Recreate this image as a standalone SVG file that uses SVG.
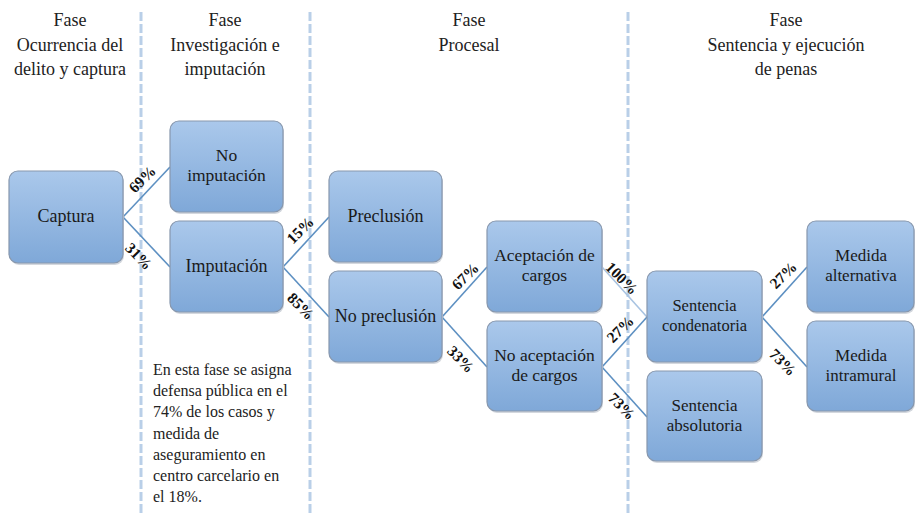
<svg xmlns="http://www.w3.org/2000/svg" width="916" height="515" viewBox="0 0 916 515">
<defs>
<linearGradient id="g" x1="0" y1="0" x2="0" y2="1">
<stop offset="0" stop-color="#aac8eb"/>
<stop offset="1" stop-color="#7fa8d8"/>
</linearGradient>
<style>
.sep{stroke:#b9cfe8;stroke-width:3;stroke-dasharray:9 3;fill:none}
.box{fill:url(#g);stroke:#8797ad;stroke-width:1.2}
.sh{fill:#d4d8de}
.c{stroke:#5d90c2;stroke-width:1.6;fill:none}
</style>
</defs>
<rect width="916" height="515" fill="#fff"/>
<g id="separators">
<line class="sep" x1="141" y1="12" x2="141" y2="515"/>
<line class="sep" x1="310" y1="12" x2="310" y2="515"/>
<line class="sep" x1="628" y1="12" x2="628" y2="515"/>
</g>
<g id="headers" fill="#222" text-anchor="middle">
<text x="70" y="26" style="font-family:'Liberation Serif',serif;font-size:18px">Fase</text>
<text x="70" y="51" style="font-family:'Liberation Serif',serif;font-size:18px">Ocurrencia del</text>
<text x="70" y="75" style="font-family:'Liberation Serif',serif;font-size:18px">delito y captura</text>
<text x="225" y="26" style="font-family:'Liberation Serif',serif;font-size:18px">Fase</text>
<text x="225" y="51" style="font-family:'Liberation Serif',serif;font-size:18px">Investigación e</text>
<text x="225" y="75" style="font-family:'Liberation Serif',serif;font-size:18px">imputación</text>
<text x="469" y="26" style="font-family:'Liberation Serif',serif;font-size:18px">Fase</text>
<text x="469" y="51" style="font-family:'Liberation Serif',serif;font-size:18px">Procesal</text>
<text x="786" y="26" style="font-family:'Liberation Serif',serif;font-size:18px">Fase</text>
<text x="786" y="51" style="font-family:'Liberation Serif',serif;font-size:18px">Sentencia y ejecución</text>
<text x="786" y="75" style="font-family:'Liberation Serif',serif;font-size:18px">de penas</text>
</g>
<g id="connectors">
<line class="c" x1="123" y1="217" x2="170" y2="167"/>
<line class="c" x1="123" y1="217" x2="170" y2="267"/>
<line class="c" x1="283" y1="267" x2="329" y2="217"/>
<line class="c" x1="283" y1="267" x2="329" y2="317"/>
<line class="c" x1="442" y1="317" x2="487" y2="267"/>
<line class="c" x1="442" y1="317" x2="487" y2="367"/>
<line class="c" x1="602" y1="267" x2="647" y2="317" style="stroke:#a9c4e2"/>
<line class="c" x1="602" y1="367" x2="647" y2="317"/>
<line class="c" x1="602" y1="367" x2="647" y2="417"/>
<line class="c" x1="762" y1="317" x2="807" y2="267"/>
<line class="c" x1="762" y1="317" x2="807" y2="367"/>
<g fill="#111" font-weight="bold" text-anchor="middle" dominant-baseline="central">
<text font-family="Liberation Serif, serif" font-size="15.5" transform="translate(142,179) rotate(-45)">69%</text>
<text font-family="Liberation Serif, serif" font-size="15.5" transform="translate(139,256) rotate(45)">31%</text>
<text font-family="Liberation Serif, serif" font-size="15.5" transform="translate(300,230) rotate(-45)">15%</text>
<text font-family="Liberation Serif, serif" font-size="15.5" transform="translate(301,306) rotate(45)">85%</text>
<text font-family="Liberation Serif, serif" font-size="15.5" transform="translate(465,276) rotate(-45)">67%</text>
<text font-family="Liberation Serif, serif" font-size="15.5" transform="translate(461,359) rotate(45)">33%</text>
<text font-family="Liberation Serif, serif" font-size="15.5" transform="translate(622,278) rotate(45)">100%</text>
<text font-family="Liberation Serif, serif" font-size="15.5" transform="translate(620,329) rotate(-45)">27%</text>
<text font-family="Liberation Serif, serif" font-size="15.5" transform="translate(622,406) rotate(45)">73%</text>
<text font-family="Liberation Serif, serif" font-size="15.5" transform="translate(783,275) rotate(-45)">27%</text>
<text font-family="Liberation Serif, serif" font-size="15.5" transform="translate(783,362) rotate(45)">73%</text>
</g>
</g>
<g id="nodes" fill="#1a1a1a" text-anchor="middle">
<g id="captura"><rect class="sh" x="10" y="173" width="114" height="92" rx="9"/><rect class="box" x="9" y="171" width="114" height="92" rx="9"/><text x="66" y="222" style="font-family:'Liberation Serif',serif;font-size:18px">Captura</text></g>
<g id="no-imputacion"><rect class="sh" x="171" y="123" width="113" height="91" rx="9"/><rect class="box" x="170" y="121" width="113" height="91" rx="9"/><text x="226.5" y="161" style="font-family:'Liberation Serif',serif;font-size:17.5px">No</text><text x="226.5" y="181" style="font-family:'Liberation Serif',serif;font-size:17.5px">imputación</text></g>
<g id="imputacion"><rect class="sh" x="171" y="223" width="113" height="91" rx="9"/><rect class="box" x="170" y="221" width="113" height="91" rx="9"/><text x="226.5" y="272" style="font-family:'Liberation Serif',serif;font-size:18px">Imputación</text></g>
<g id="preclusion"><rect class="sh" x="330" y="173" width="113" height="91" rx="9"/><rect class="box" x="329" y="171" width="113" height="91" rx="9"/><text x="385.5" y="222" style="font-family:'Liberation Serif',serif;font-size:18px">Preclusión</text></g>
<g id="no-preclusion"><rect class="sh" x="330" y="273" width="113" height="91" rx="9"/><rect class="box" x="329" y="271" width="113" height="91" rx="9"/><text x="385.5" y="322" style="font-family:'Liberation Serif',serif;font-size:18px">No preclusión</text></g>
<g id="aceptacion"><rect class="sh" x="488" y="223" width="115" height="91" rx="9"/><rect class="box" x="487" y="221" width="115" height="91" rx="9"/><text x="544.5" y="261" style="font-family:'Liberation Serif',serif;font-size:17.5px">Aceptación de</text><text x="544.5" y="281" style="font-family:'Liberation Serif',serif;font-size:17.5px">cargos</text></g>
<g id="no-aceptacion"><rect class="sh" x="488" y="323" width="115" height="90" rx="9"/><rect class="box" x="487" y="321" width="115" height="90" rx="9"/><text x="544.5" y="361" style="font-family:'Liberation Serif',serif;font-size:17.5px">No aceptación</text><text x="544.5" y="381" style="font-family:'Liberation Serif',serif;font-size:17.5px">de cargos</text></g>
<g id="sentencia-condenatoria"><rect class="sh" x="648" y="273" width="115" height="91" rx="9"/><rect class="box" x="647" y="271" width="115" height="91" rx="9"/><text x="704.5" y="311" style="font-family:'Liberation Serif',serif;font-size:16.5px">Sentencia</text><text x="704.5" y="331" style="font-family:'Liberation Serif',serif;font-size:16.5px">condenatoria</text></g>
<g id="sentencia-absolutoria"><rect class="sh" x="648" y="373" width="115" height="90" rx="9"/><rect class="box" x="647" y="371" width="115" height="90" rx="9"/><text x="704.5" y="411" style="font-family:'Liberation Serif',serif;font-size:17px">Sentencia</text><text x="704.5" y="431" style="font-family:'Liberation Serif',serif;font-size:17px">absolutoria</text></g>
<g id="medida-alternativa"><rect class="sh" x="808" y="223" width="107" height="91" rx="9"/><rect class="box" x="807" y="221" width="107" height="91" rx="9"/><text x="861" y="261" style="font-family:'Liberation Serif',serif;font-size:17px">Medida</text><text x="861" y="281" style="font-family:'Liberation Serif',serif;font-size:17px">alternativa</text></g>
<g id="medida-intramural"><rect class="sh" x="808" y="323" width="107" height="90" rx="9"/><rect class="box" x="807" y="321" width="107" height="90" rx="9"/><text x="861" y="361" style="font-family:'Liberation Serif',serif;font-size:17px">Medida</text><text x="861" y="381" style="font-family:'Liberation Serif',serif;font-size:17px">intramural</text></g>
</g>
<g id="nota" fill="#222">
<text x="153" y="375" style="font-family:'Liberation Serif',serif;font-size:16px">En esta fase se asigna</text>
<text x="153" y="396" style="font-family:'Liberation Serif',serif;font-size:16px">defensa pública en el</text>
<text x="153" y="417" style="font-family:'Liberation Serif',serif;font-size:16px">74% de los casos y</text>
<text x="153" y="438.5" style="font-family:'Liberation Serif',serif;font-size:16px">medida de</text>
<text x="153" y="459.5" style="font-family:'Liberation Serif',serif;font-size:16px">aseguramiento en</text>
<text x="153" y="480.5" style="font-family:'Liberation Serif',serif;font-size:16px">centro carcelario en</text>
<text x="153" y="501.5" style="font-family:'Liberation Serif',serif;font-size:16px">el 18%.</text>
</g>
</svg>
